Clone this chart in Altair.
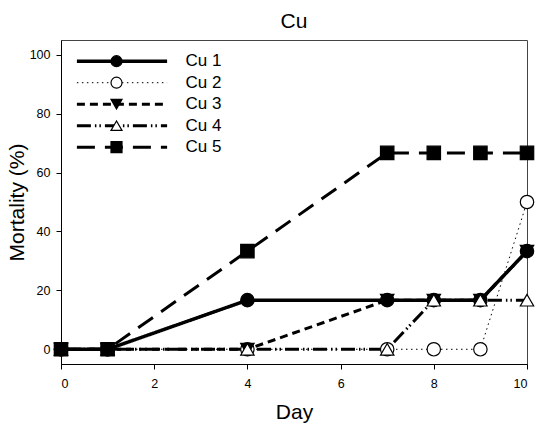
import altair as alt
import pandas as pd

days = [0, 1, 4, 7, 8, 9, 10]
series_names = ["Cu 1", "Cu 2", "Cu 3", "Cu 4", "Cu 5"]
cu1 = [0, 0, 16.67, 16.67, 16.67, 16.67, 33.33]
cu2 = [0, 0, 0, 0, 0, 0, 50]
cu3 = [0, 0, 0, 16.67, 16.67, 16.67, 33.33]
cu4 = [0, 0, 0, 0, 16.67, 16.67, 16.67]
cu5 = [0, 0, 33.33, 66.67, 66.67, 66.67, 66.67]
x_ticks = [0, 2, 4, 6, 8, 10]
y_ticks = [0, 20, 40, 60, 80, 100]

# marker legend uses its own keys so it stays a separate legend from the line legend
marker_keys = [n + " marker" for n in series_names]

rows = []
for name, key, vals in zip(series_names, marker_keys, [cu1, cu2, cu3, cu4, cu5]):
    for d, v in zip(days, vals):
        rows.append({"day": d, "mort": v, "series": name, "marker": key})
df = pd.DataFrame(rows)

FONT = "Liberation Sans"

dash_range = [[1, 0], [1.5, 3.5], [8, 5], [14, 4, 1.5, 3, 1.5, 4], [18, 10]]
width_range = [3.5, 1, 3, 3, 3]
shape_range = ["circle", "circle", "triangle-down", "triangle-up", "square"]
fill_range = ["black", "white", "black", "white", "black"]
edge_range = ["black", "black", "black", "black", "black"]

x_enc = alt.X("day:Q", scale=alt.Scale(domain=[0, 10], nice=False, zero=False),
              axis=alt.Axis(values=x_ticks, title="Day", titlePadding=12))
y_enc = alt.Y("mort:Q", scale=alt.Scale(domain=[-5, 105], nice=False, zero=False),
              axis=alt.Axis(values=y_ticks, title="Mortality (%)", titlePadding=2))

LEG_Y = 12.7
SYM = 121
line_legend = alt.Legend(title=None, orient="none", legendX=52.5, legendY=LEG_Y,
                         symbolType="M-8.2,0H8.2", symbolSize=SYM,
                         symbolStrokeColor="black", symbolFillColor="transparent",
                         labelFontSize=17, labelFont=FONT, labelColor="black",
                         labelOffset=55, rowPadding=3.5, padding=0)
marker_legend = alt.Legend(title=None, orient="none", legendX=47, legendY=LEG_Y,
                           symbolSize=SYM, symbolStrokeColor="black",
                           symbolStrokeWidth=1.2, symbolOpacity=1,
                           labelFontSize=17, labelFont=FONT, labelExpr="''",
                           labelOpacity=0, labelOffset=55, rowPadding=3.5, padding=0)

lines = alt.Chart(df).mark_line(color="black").encode(
    x=x_enc,
    y=y_enc,
    detail="series:N",
    strokeDash=alt.StrokeDash("series:N",
        scale=alt.Scale(domain=series_names, range=dash_range),
        legend=line_legend),
    strokeWidth=alt.StrokeWidth("series:N",
        scale=alt.Scale(type="ordinal", domain=series_names, range=width_range),
        legend=line_legend),
)

points = alt.Chart(df).mark_point(filled=False, strokeWidth=1.2, size=180,
                                  opacity=1, fillOpacity=1).encode(
    x=x_enc,
    y=y_enc,
    shape=alt.Shape("marker:N",
        scale=alt.Scale(domain=marker_keys, range=shape_range),
        legend=marker_legend),
    fill=alt.Fill("marker:N",
        scale=alt.Scale(domain=marker_keys, range=fill_range),
        legend=marker_legend),
    stroke=alt.Stroke("marker:N",
        scale=alt.Scale(domain=marker_keys, range=edge_range),
        legend=marker_legend),
)

chart = alt.layer(lines, points).properties(
    width=466, height=324,
    title=alt.TitleParams("Cu", fontSize=21, font=FONT, fontWeight="normal",
                          offset=14, baseline="alphabetic", anchor="middle",
                          frame="group", dy=23),
    autosize=alt.AutoSizeParams(type="none"),
    padding={"left": 61, "top": 40, "right": 9, "bottom": 63},
    background="white",
).configure_view(
    stroke="#444", strokeWidth=1
).configure_axis(
    grid=False, domainColor="black", tickColor="black", tickSize=5,
    labelFont=FONT, labelFontSize=12.5, labelColor="black", labelPadding=6,
    titleFont=FONT, titleFontSize=21, titleFontWeight="normal", titleColor="black",
).configure_axisX(labelPadding=8)

chart.save("out.html", embed_options={"renderer": "svg", "actions": False})
